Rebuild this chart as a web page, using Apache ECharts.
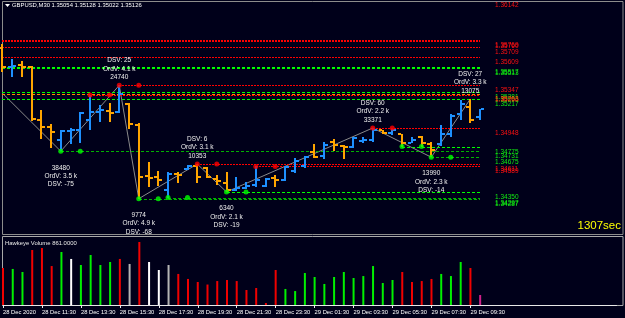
<!DOCTYPE html>
<html><head><meta charset="utf-8">
<script src="https://cdn.jsdelivr.net/npm/echarts@6/dist/echarts.min.js"></script>
<style>html,body{margin:0;padding:0;background:#00001a;overflow:hidden}#c{width:625px;height:318px}</style>
</head><body><div id="c"></div>
<script>
// ---------- DATA ----------
const symbol = 'GBPUSD,M30';
const barTimes = ['28 Dec 09:30','28 Dec 10:00','28 Dec 10:30','28 Dec 11:00','28 Dec 11:30','28 Dec 12:00','28 Dec 12:30','28 Dec 13:00','28 Dec 13:30','28 Dec 14:00',
'28 Dec 14:30','28 Dec 15:00','28 Dec 15:30','28 Dec 16:00','28 Dec 16:30','28 Dec 17:00','28 Dec 17:30','28 Dec 18:00','28 Dec 18:30','28 Dec 19:00',
'28 Dec 19:30','28 Dec 20:00','28 Dec 20:30','28 Dec 21:00','28 Dec 21:30','28 Dec 22:00','28 Dec 22:30','28 Dec 23:00','28 Dec 23:30','29 Dec 00:00',
'29 Dec 00:30','29 Dec 01:00','29 Dec 01:30','29 Dec 02:00','29 Dec 02:30','29 Dec 03:00','29 Dec 03:30','29 Dec 04:00','29 Dec 04:30','29 Dec 05:00',
'29 Dec 05:30','29 Dec 06:00','29 Dec 06:30','29 Dec 07:00','29 Dec 07:30','29 Dec 08:00','29 Dec 08:30','29 Dec 09:00','29 Dec 09:30','29 Dec 10:00'];
const tickLabels = {0:'28 Dec 2020',4:'28 Dec 11:30',8:'28 Dec 13:30',12:'28 Dec 15:30',16:'28 Dec 17:30',20:'28 Dec 19:30',24:'28 Dec 21:30',
28:'28 Dec 23:30',32:'29 Dec 01:30',36:'29 Dec 03:30',40:'29 Dec 05:30',44:'29 Dec 07:30',48:'29 Dec 09:30'};

const openP  = [1.35696,1.35518,1.35537,1.35518,1.35023,1.34957,1.34836,1.34920,1.34929,1.35023,
1.35098,1.35107,1.35098,1.35172,1.34976,1.34499,1.34490,1.34368,1.34518,1.34565,
1.34593,1.34574,1.34471,1.34434,1.34368,1.34387,1.34415,1.34406,1.34480,1.34462,
1.34546,1.34593,1.34724,1.34686,1.34817,1.34780,1.34770,1.34826,1.34836,1.34929,
1.34901,1.34892,1.34808,1.34864,1.34798,1.34798,1.34892,1.35079,1.35144,1.35054];
const highP  = [1.35733,1.35593,1.35575,1.35528,1.35116,1.34985,1.34929,1.34948,1.35098,1.35256,
1.35163,1.35182,1.35347,1.35182,1.34995,1.34630,1.34546,1.34537,1.34537,1.34602,
1.34611,1.34583,1.34509,1.34537,1.34490,1.34443,1.34589,1.34480,1.34509,1.34593,
1.34667,1.34686,1.34798,1.34817,1.34845,1.34789,1.34864,1.34864,1.34948,1.34929,
1.34939,1.34892,1.34864,1.34873,1.34817,1.34976,1.35079,1.35210,1.35219,1.35128];
const lowP   = [1.35472,1.35425,1.35425,1.35013,1.34845,1.34761,1.34731,1.34798,1.34808,1.34929,
1.35004,1.35004,1.35088,1.34939,1.34287,1.34396,1.34406,1.34297,1.34434,1.34555,
1.34434,1.34480,1.34415,1.34350,1.34359,1.34378,1.34396,1.34396,1.34396,1.34452,
1.34527,1.34574,1.34667,1.34658,1.34733,1.34658,1.34761,1.34808,1.34817,1.34892,
1.34883,1.34775,1.34808,1.34770,1.34675,1.34780,1.34864,1.35023,1.34995,1.35022];
const closeP = [1.35518,1.35528,1.35518,1.35032,1.34957,1.34911,1.34920,1.34929,1.35088,1.35098,
1.35116,1.35088,1.35266,1.34985,1.34490,1.34480,1.34462,1.34518,1.34509,1.34593,
1.34490,1.34490,1.34452,1.34368,1.34387,1.34406,1.34462,1.34471,1.34462,1.34583,
1.34639,1.34677,1.34677,1.34789,1.34789,1.34770,1.34854,1.34836,1.34929,1.34901,
1.34929,1.34808,1.34836,1.34808,1.34742,1.34892,1.35060,1.35172,1.35023,1.35126];

const volume = [3180,3100,2840,4730,4900,3350,4560,3960,3440,4300,
3440,3700,3960,3530,5420,3700,3010,3440,2670,2240,
1980,1760,2060,2150,2060,1290,1460,170,3010,1380,
1200,2750,2410,1810,2410,2840,2320,2490,3350,1890,
2150,2840,1980,2060,2240,2670,2490,3700,3180,861];
const volType = ['R','G','G','R','R','R','G','W','G','G',
'G','G','R','S','R','W','W','S','R','R',
'R','R','R','R','R','R','R','R','R','G',
'G','G','G','G','G','G','G','G','G','G',
'G','R','R','R','R','G','G','G','R','M'];

const zigIdx   = [0,6,12,14,20,23,38,44,48];
const zigPrice = [1.35275,1.34731,1.35347,1.34287,1.34611,1.34350,1.34948,1.34675,1.35219];

const pivotIdx  = [6,12,14,20,23,38,44,48];
const pivotType = ['L','H','L','H','L','H','L','H'];
const pivotDSV  = [-75,25,-68,6,-19,60,-14,27];
const pivotOrdV = ['3.5 k','4.1 k','4.9 k','3.1 k','2.1 k','2.2 k','2.3 k','3.3 k'];
const pivotVol  = [38480,24740,9774,10353,6340,33371,13990,13075];

const levelPrice = [1.36142,1.35769,1.35760,1.35709,1.35609,1.35517,1.35513,1.35347,1.35281,1.35263,1.35256,1.35217,
1.34948,1.34775,1.34731,1.34675,1.34611,1.34589,1.34350,1.34297,1.34287];
const levelStart = [49,0,0,0,0,0,0,12,0,0,9,0, 38,41,6,44,20,26,23,17,14];
const levelKind  = ['R','R','R','R','R','G','G','R','G','O','R','G', 'R','G','g','g','R','R','G','g','g'];

const timerText = '1307sec';

// ---------- STYLE ----------
const FONT = '"Liberation Sans", Arial, sans-serif';
const BLUE = '#1e90ff', ORANGE = '#ffa500';
const volColors = {G:'#00f000', R:'#f00000', W:'#ffffff', S:'#b4b4b4', M:'#d0208a'};
const kindStyle = {
  R:{line:'#ff0000', dash:[2,1], text:'#ff1010'},
  G:{line:'#00ff00', dash:[3,2], text:'#10ee10'},
  g:{line:'#00b400', dash:[3,2], text:'#10ee10'},
  O:{line:'#ff8c00', dash:[3,2], text:'#ff8c00'}
};
const NSLOT = 64;
const cats = barTimes.concat(Array.from({length:NSLOT-barTimes.length},(_,i)=>'f'+i));
const lastIdx = barTimes.length-1;

const chart = echarts.init(document.getElementById('c'));
const showTick = (idx)=> tickLabels[idx] !== undefined;

const ohlcData = barTimes.map((t,i)=>[i, openP[i], highP[i], lowP[i], closeP[i]]);
const levelData = levelPrice.map((p,i)=>[levelStart[i], p, i]);
const redDots = [], greenDots = [];
levelPrice.forEach((p,i)=>{
  const s = levelStart[i];
  if (s>=1 && s<lastIdx && levelKind[i]!=='O') {
    const arr = levelKind[i]==='R'?redDots:greenDots;
    arr.push([s,p]); arr.push([s+2,p]);
  }
});
const pivotData = pivotIdx.map((k,j)=>[k, zigPrice[zigIdx.indexOf(k)], j]);

const option = {
  backgroundColor:'#00001a',
  animation:false,
  grid:[
    {left:2.25, width:614.25, top:1, height:234},
    {left:2.25, width:614.25, top:238, height:67}
  ],
  xAxis:[
    {type:'category', gridIndex:0, data:cats, boundaryGap:false, axisLine:{show:false}, axisTick:{show:false}, axisLabel:{show:false}, splitLine:{show:false}},
    {type:'category', gridIndex:1, data:cats, boundaryGap:false, offset:1,
     axisLine:{show:true, lineStyle:{color:'#e8e8e8', width:1}},
     axisTick:{show:true, interval:(i)=>showTick(i), length:3, lineStyle:{color:'#e8e8e8'}},
     axisLabel:{show:true, interval:(i)=>showTick(i), formatter:(v,i)=>tickLabels[i]||'', color:'#ffffff', fontSize:5.8, fontFamily:FONT, align:'left', margin:3},
     splitLine:{show:false}}
  ],
  yAxis:[
    {type:'value', gridIndex:0, min:1.339475, max:1.361355, show:false},
    {type:'value', gridIndex:1, min:0, max:5762, show:false}
  ],
  series:[
    { type:'line', xAxisIndex:0, yAxisIndex:0, data:zigIdx.map((k,j)=>[k, zigPrice[j]]), symbol:'none',
      lineStyle:{color:'#8a8a8a', width:1}, z:2, silent:true },
    { type:'custom', xAxisIndex:0, yAxisIndex:0, data:levelData, z:3, clip:false,
      renderItem:(params, api)=>{
        const i = api.value(2);
        const st = kindStyle[levelKind[i]];
        const a = api.coord([api.value(0), api.value(1)]);
        const b = api.coord([lastIdx, api.value(1)]);
        const y = Math.round(a[1])+0.5;
        const ch = [];
        if (b[0]-a[0] > 0.5) ch.push({type:'line', shape:{x1:Math.round(a[0]), y1:y, x2:Math.round(b[0]), y2:y}, style:{stroke:st.line, lineWidth:1, lineDash:st.dash}});
        ch.push({type:'text', style:{text:api.value(1).toFixed(5), x:Math.round(b[0])+15, y:y+5, fill:st.text, font:'6.5px '+FONT, textAlign:'left', textVerticalAlign:'middle'}});
        return {type:'group', children:ch};
      }},
    { type:'scatter', xAxisIndex:0, yAxisIndex:0, data:redDots, symbolSize:5, itemStyle:{color:'#ff0000'}, z:5, silent:true },
    { type:'scatter', xAxisIndex:0, yAxisIndex:0, data:greenDots, symbolSize:5, itemStyle:{color:'#00ff00'}, z:5, silent:true },
    { type:'custom', xAxisIndex:0, yAxisIndex:0, data:ohlcData, z:4, clip:false, encode:{x:0, y:[1,2,3,4]},
      renderItem:(params, api)=>{
        const k = api.value(0);
        const o=api.value(1), h=api.value(2), l=api.value(3), c=api.value(4);
        const pH=api.coord([k,h]), pL=api.coord([k,l]), pO=api.coord([k,o]), pC=api.coord([k,c]);
        const cx = Math.round(pH[0]);
        const col = c>=o ? BLUE : ORANGE;
        const yh=Math.round(pH[1]), yl=Math.round(pL[1]);
        return {type:'group', children:[
          {type:'rect', shape:{x:cx-1, y:yh, width:2, height:Math.max(1,yl-yh)}, style:{fill:col}},
          {type:'rect', shape:{x:cx-4, y:Math.round(pO[1])-1, width:3, height:2}, style:{fill:col}},
          {type:'rect', shape:{x:cx+1, y:Math.round(pC[1])-1, width:3, height:2}, style:{fill:col}}
        ]};
      }},
    { type:'custom', xAxisIndex:0, yAxisIndex:0, data:pivotData, z:6, clip:false,
      renderItem:(params, api)=>{
        const j = api.value(2);
        const p = api.coord([api.value(0), api.value(1)]);
        const lines = pivotType[j]==='H'
          ? ['DSV: '+pivotDSV[j], 'OrdV: '+pivotOrdV[j], String(pivotVol[j])]
          : [String(pivotVol[j]), 'OrdV: '+pivotOrdV[j], 'DSV: '+pivotDSV[j]];
        const base = pivotType[j]==='H' ? -25 : 16.5;
        return {type:'group', children: lines.map((t,n)=>({type:'text', style:{text:t, x:p[0], y:p[1]+base+n*8.4, fill:'#f0f0f0', font:'6.5px '+FONT, textAlign:'center', textVerticalAlign:'middle'}}))};
      }},
    { type:'bar', xAxisIndex:1, yAxisIndex:1, barWidth:2, silent:true,
      data: volume.map((v,i)=>({value:v, itemStyle:{color:volColors[volType[i]]}})) }
  ],
  graphic:[
    {type:'rect', shape:{x:2.5, y:1.5, width:620.5, height:233}, style:{fill:null, stroke:'#8c8c8c', lineWidth:1}, silent:true, z:0},
    {type:'rect', shape:{x:2.5, y:236.5, width:620.5, height:69}, style:{fill:null, stroke:'#a8a8a8', lineWidth:1}, silent:true, z:0},
    {type:'polygon', shape:{points:[[5,4],[10,4],[7.5,7]]}, style:{fill:'#ffffff'}, silent:true},
    {type:'text', left:12, top:2, style:{text: symbol+' '+[openP[lastIdx],highP[lastIdx],lowP[lastIdx],closeP[lastIdx]].map(v=>v.toFixed(5)).join(' '), fill:'#ffffff', font:'5.9px '+FONT}, silent:true},
    {type:'text', left:5, top:240, style:{text:'Hawkeye Volume '+volume[lastIdx].toFixed(4), fill:'#e8e8e8', font:'5.9px '+FONT}, silent:true},
    {type:'text', right:4, top:220, style:{text:timerText, fill:'#ffff00', font:'11.5px '+FONT}, silent:true}
  ]
};
chart.setOption(option);
</script>
</body></html>
